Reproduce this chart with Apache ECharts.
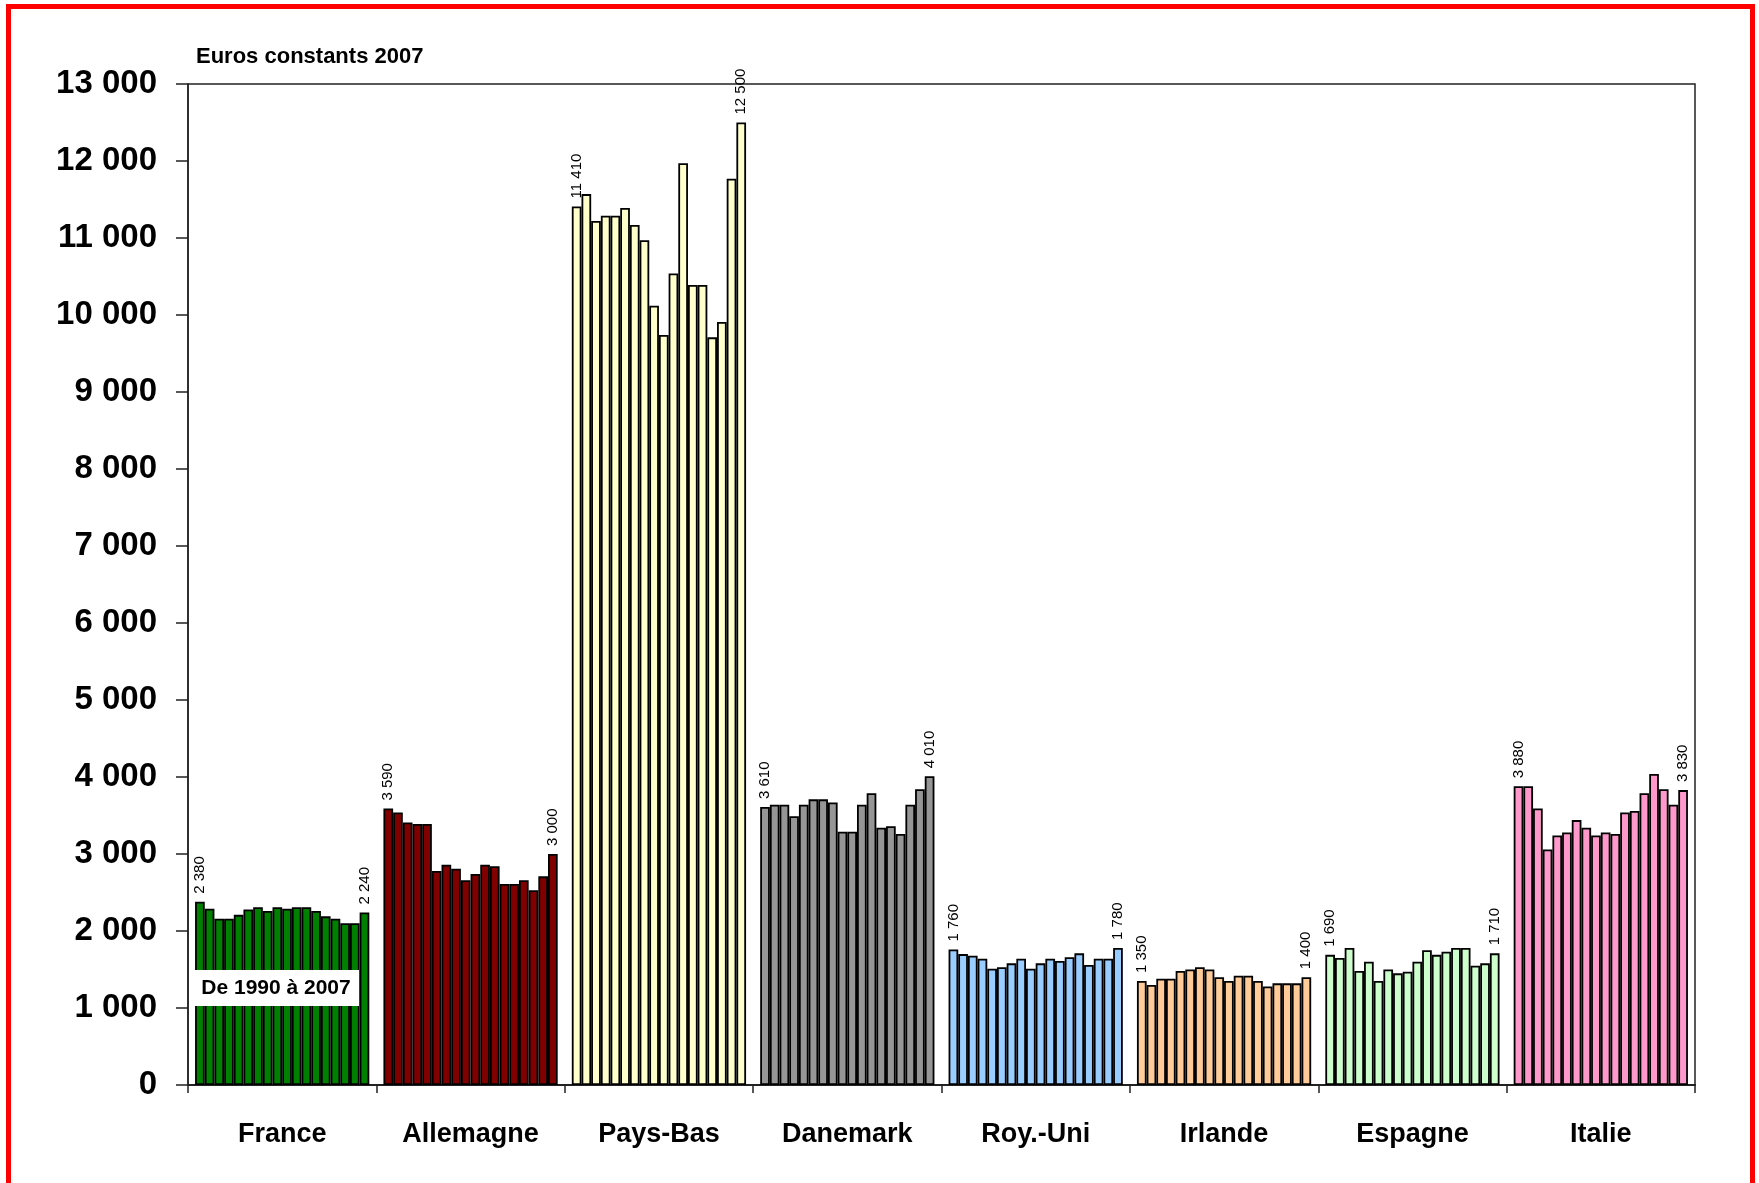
<!DOCTYPE html>
<html>
<head>
<meta charset="utf-8">
<script src="https://cdn.jsdelivr.net/npm/echarts@6/dist/echarts.min.js"></script>
<style>
html,body{margin:0;padding:0;background:#fff;}
#chart{position:absolute;left:0;top:0;width:1759px;height:1183px;}
#frame{position:absolute;left:6px;top:4px;width:1739px;height:1200px;border:5px solid #ff0000;border-bottom:none;pointer-events:none;}
</style>
</head>
<body>
<div id="chart"></div>
<div id="frame"></div>
<script>
// ---- data ----
const countries = ['France', 'Allemagne', 'Pays-Bas', 'Danemark', 'Roy.-Uni', 'Irlande', 'Espagne', 'Italie'];
const years = [1990,1991,1992,1993,1994,1995,1996,1997,1998,1999,2000,2001,2002,2003,2004,2005,2006,2007];
const france    = [2380,2290,2160,2160,2210,2280,2310,2260,2310,2290,2310,2310,2260,2190,2160,2100,2100,2240];
const allemagne = [3590,3540,3410,3390,3390,2780,2860,2810,2660,2740,2860,2840,2610,2610,2660,2530,2710,3000];
const paysBas   = [11410,11570,11220,11290,11290,11390,11170,10970,10120,9740,10540,11970,10390,10390,9710,9910,11770,12500];
const danemark  = [3610,3640,3640,3490,3640,3710,3710,3670,3290,3290,3640,3790,3340,3360,3260,3640,3840,4010];
const royUni    = [1760,1700,1680,1640,1510,1530,1580,1640,1510,1580,1640,1610,1660,1710,1560,1640,1640,1780];
const irlande   = [1350,1300,1380,1380,1480,1500,1530,1500,1400,1350,1420,1420,1350,1280,1320,1320,1320,1400];
const espagne   = [1690,1650,1780,1480,1600,1350,1500,1450,1470,1600,1750,1690,1730,1780,1780,1550,1580,1710];
const italie    = [3880,3880,3590,3060,3240,3280,3440,3340,3240,3280,3260,3540,3560,3790,4040,3840,3640,3830];
const yTicks = [0,1000,2000,3000,4000,5000,6000,7000,8000,9000,10000,11000,12000,13000];
const unitLabel = 'Euros constants 2007';
const periodLabel = 'De 1990 à 2007';

// ---- styles ----
const countryColors = ['#008000', '#800000', '#FFFFCC', '#969696', '#99CCFF', '#FFCC99', '#CCFFCC', '#FF99CC'];
const valuesByCountry = [france, allemagne, paysBas, danemark, royUni, irlande, espagne, italie];

function fmt(v) {
  return String(v).replace(/\B(?=(\d{3})+(?!\d))/g, ' ');
}

const series = years.map((yr, i) => {
  const showLabel = (i === 0 || i === years.length - 1);
  return {
    name: String(yr),
    type: 'bar',
    barGap: '0%',
    barCategoryGap: '7.5%',
    data: valuesByCountry.map((vals, k) => ({
      value: vals[i],
      itemStyle: { color: countryColors[k] }
    })),
    itemStyle: { borderColor: '#000', borderWidth: 1.8 },
    label: {
      show: showLabel,
      position: 'top',
      distance: 8,
      rotate: 90,
      align: 'left',
      verticalAlign: 'middle',
      fontFamily: 'Liberation Sans, Arial, sans-serif',
      fontSize: 15,
      color: '#000',
      formatter: p => fmt(p.value)
    },
    emphasis: { disabled: true }
  };
});

const chart = echarts.init(document.getElementById('chart'), null, { renderer: 'canvas' });
chart.setOption({
  animation: false,
  backgroundColor: 'transparent',
  title: {
    text: unitLabel,
    left: 191,
    top: 41,
    textStyle: { fontFamily: 'Liberation Sans, Arial, sans-serif', fontWeight: 'bold', fontSize: 22, color: '#000' }
  },
  grid: {
    left: 188, right: 64, top: 84, bottom: 98,
    show: true, borderColor: '#222', borderWidth: 1.5, backgroundColor: 'transparent'
  },
  xAxis: {
    type: 'category',
    data: countries,
    axisLine: { lineStyle: { color: '#222', width: 2 } },
    axisTick: { show: true, length: 8, interval: 0, lineStyle: { color: '#222', width: 1.5 } },
    axisLabel: {
      interval: 0, margin: 36,
      fontFamily: 'Liberation Sans, Arial, sans-serif', fontWeight: 'bold', fontSize: 27, color: '#000'
    }
  },
  yAxis: {
    type: 'value',
    min: yTicks[0],
    max: yTicks[yTicks.length - 1],
    interval: yTicks[1] - yTicks[0],
    axisLine: { show: true, lineStyle: { color: '#222', width: 1.5 } },
    axisTick: { show: true, length: 12, lineStyle: { color: '#222', width: 1.5 } },
    splitLine: { show: false },
    axisLabel: {
      margin: 31,
      fontFamily: 'Liberation Sans, Arial, sans-serif', fontWeight: 'bold', fontSize: 33, color: '#000',
      formatter: v => fmt(v)
    }
  },
  graphic: [
    {
      type: 'rect',
      shape: { x: 193, y: 970, width: 166, height: 36 },
      style: { fill: '#fff' },
      z: 100
    },
    {
      type: 'text',
      x: 276, y: 988,
      style: {
        text: periodLabel,
        fontFamily: 'Liberation Sans, Arial, sans-serif', fontWeight: 'bold', fontSize: 21,
        fill: '#000', align: 'center', verticalAlign: 'middle'
      },
      z: 101
    }
  ],
  series: series
});
</script>
</body>
</html>
